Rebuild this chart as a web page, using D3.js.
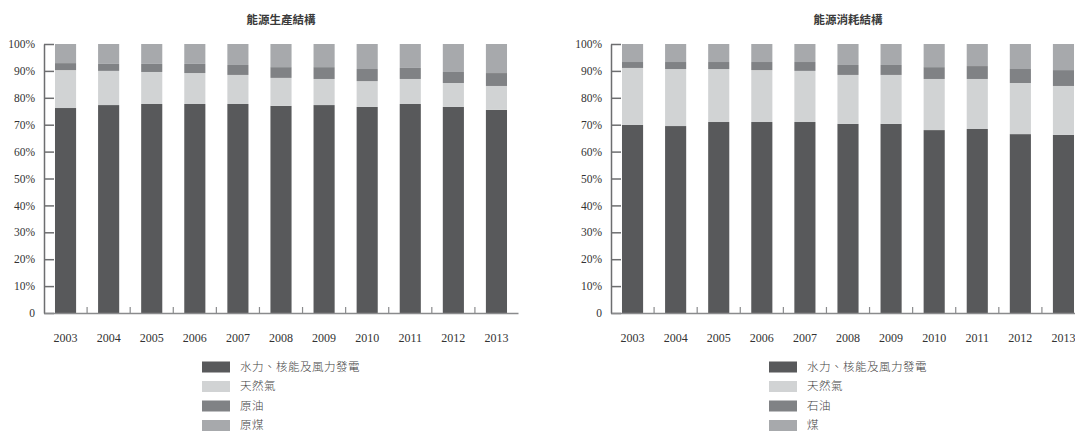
<!DOCTYPE html>
<html>
<head>
<meta charset="utf-8">
<script src="https://cdn.jsdelivr.net/npm/d3@7"></script>
<style>
  html, body { margin: 0; padding: 0; background: #fff; }
  svg { display: block; }
</style>
</head>
<body>
<svg id="chart" width="1075" height="431"></svg>
<script>
// Years shown on both charts
const years = ["2003","2004","2005","2006","2007","2008","2009","2010","2011","2012","2013"];

// Energy production structure (% share)
const prodHydro = [76.2, 77.3, 77.7, 77.7, 77.7, 77.0, 77.3, 76.6, 77.7, 76.6, 75.5];
const prodGas   = [14.1, 12.7, 11.9, 11.5, 10.8, 10.4, 9.7, 9.6, 9.3, 8.9, 8.9];
const prodOil   = [2.6, 2.6, 3.0, 3.4, 3.7, 4.0, 4.4, 4.5, 4.1, 4.1, 4.8];
const prodCoal  = [7.1, 7.4, 7.4, 7.4, 7.8, 8.6, 8.6, 9.3, 8.9, 10.4, 10.8];

// Energy consumption structure (% share)
const consHydro = [69.9, 69.5, 71.0, 71.0, 71.0, 70.3, 70.3, 68.0, 68.4, 66.5, 66.2];
const consGas   = [21.2, 21.2, 19.7, 19.3, 19.0, 18.2, 18.2, 19.0, 18.6, 19.0, 18.2];
const consOil   = [2.2, 2.6, 2.6, 3.0, 3.3, 3.7, 3.7, 4.4, 4.8, 5.2, 5.9];
const consCoal  = [6.7, 6.7, 6.7, 6.7, 6.7, 7.8, 7.8, 8.6, 8.2, 9.3, 9.7];

// Y axis tick labels
const yTickValues = [0, 10, 20, 30, 40, 50, 60, 70, 80, 90, 100];
const yTickLabels = ["0", "10%", "20%", "30%", "40%", "50%", "60%", "70%", "80%", "90%", "100%"];

const keys = ["hydro", "gas", "oil", "coal"];
const colors = { hydro: "#58595b", gas: "#d1d3d4", oil: "#808285", coal: "#a7a9ac" };

const svg = d3.select("#chart");

function drawChart(opt) {
  const rows = years.map((y, i) => ({
    year: y,
    hydro: opt.series[0][i],
    gas: opt.series[1][i],
    oil: opt.series[2][i],
    coal: opt.series[3][i]
  }));

  const x = d3.scaleBand()
    .domain(years)
    .range([opt.x0, opt.x1])
    .paddingInner(0.51)
    .paddingOuter(0.255);

  const y = d3.scaleLinear().domain([0, 100]).range([313, 44]);

  const g = svg.append("g");

  // title
  g.append("text")
    .attr("x", (opt.x0 + opt.x1) / 2)
    .attr("y", 24)
    .attr("text-anchor", "middle")
    .attr("font-family", "'Noto Sans CJK TC', sans-serif")
    .attr("font-size", 11.5)
    .attr("font-weight", "bold")
    .attr("fill", "#3a3a3a")
    .text(opt.title);

  // stacked bars
  const stacked = d3.stack().keys(keys)(rows);
  g.append("g").selectAll("g")
    .data(stacked)
    .join("g")
    .attr("fill", d => colors[d.key])
    .selectAll("rect")
    .data(d => d)
    .join("rect")
    .attr("x", d => x(d.data.year))
    .attr("width", x.bandwidth())
    .attr("y", d => y(Math.min(d[1], 100)))
    .attr("height", d => y(d[0]) - y(Math.min(d[1], 100)));

  // y axis with inward ticks
  const yAxis = d3.axisLeft(y)
    .tickValues(yTickValues)
    .tickFormat((d, i) => yTickLabels[i])
    .tickSizeInner(-10)
    .tickSizeOuter(0)
    .tickPadding(9);
  const ya = g.append("g").attr("transform", `translate(${opt.x0},0)`).call(yAxis);
  ya.select(".domain").attr("stroke", "#6d6e70").attr("stroke-width", 1.5);
  ya.selectAll(".tick line").attr("stroke", "#6d6e70").attr("stroke-width", 1.5);
  ya.selectAll(".tick text")
    .attr("font-family", "'Liberation Serif', serif")
    .attr("font-size", 11.5)
    .attr("fill", "#333");

  // x axis: year labels under bars
  const xAxis = d3.axisBottom(x).tickSizeInner(0).tickSizeOuter(0).tickPadding(20);
  const xa = g.append("g").attr("transform", "translate(0,313)").call(xAxis);
  xa.select(".domain").attr("stroke", "#8a8b8d").attr("stroke-width", 1.5);
  xa.selectAll(".tick text")
    .attr("font-family", "'Liberation Serif', serif")
    .attr("font-size", 12)
    .attr("fill", "#333");

  // small upward ticks between bars
  const gap = (x.step() - x.bandwidth()) / 2;
  g.append("g").selectAll("line")
    .data(years.slice(1))
    .join("line")
    .attr("x1", d => x(d) - gap)
    .attr("x2", d => x(d) - gap)
    .attr("y1", 313)
    .attr("y2", 307)
    .attr("stroke", "#8a8b8d")
    .attr("stroke-width", 1.2);

  // legend
  const lg = g.append("g");
  const item = lg.selectAll("g")
    .data(keys)
    .join("g")
    .attr("transform", (d, i) => `translate(${opt.legendX},${361.5 + i * 19.5})`);
  item.append("rect")
    .attr("width", 28)
    .attr("height", 11)
    .attr("fill", d => colors[d]);
  item.append("text")
    .attr("x", opt.legendTextDx)
    .attr("y", 5.5)
    .attr("dy", "0.34em")
    .attr("font-family", "'Noto Sans CJK TC', sans-serif")
    .attr("font-size", 11.5)
    .attr("font-weight", 300)
    .attr("letter-spacing", 0.5)
    .attr("fill", "#444")
    .text((d, i) => opt.legend[i]);
}

drawChart({
  title: "能源生產結構",
  x0: 44, x1: 518,
  series: [prodHydro, prodGas, prodOil, prodCoal],
  legend: ["水力、核能及風力發電", "天然氣", "原油", "原煤"],
  legendX: 202, legendTextDx: 38
});

drawChart({
  title: "能源消耗結構",
  x0: 611, x1: 1085,
  series: [consHydro, consGas, consOil, consCoal],
  legend: ["水力、核能及風力發電", "天然氣", "石油", "煤"],
  legendX: 769, legendTextDx: 38
});
</script>
</body>
</html>
